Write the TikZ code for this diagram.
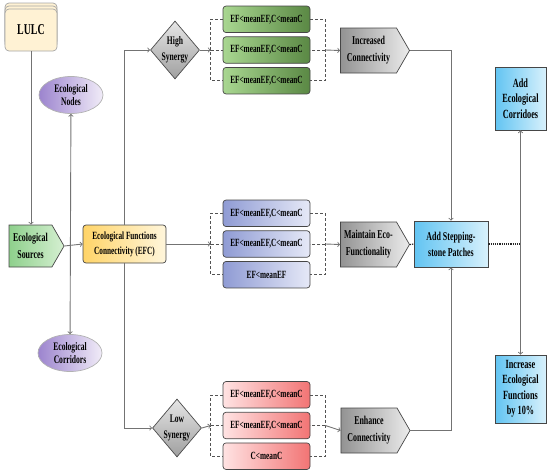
\documentclass[tikz,border=0pt]{standalone}
\usepackage{fontspec}
\setmainfont{Liberation Serif}[FakeStretch=0.66]
\usetikzlibrary{matrix,positioning,shapes.geometric,shapes.symbols}

\definecolor{lulcfill}{HTML}{FFF2D4}
\definecolor{purpleL}{HTML}{9C84CE}
\definecolor{purpleR}{HTML}{F1ECF8}
\definecolor{greenL}{HTML}{8ED08C}
\definecolor{greenR}{HTML}{D6F0D2}
\definecolor{yellowL}{HTML}{FFD468}
\definecolor{yellowR}{HTML}{FFF6DC}
\definecolor{hiL}{HTML}{A9D791}
\definecolor{hiR}{HTML}{5A8844}
\definecolor{midL}{HTML}{8F9BD4}
\definecolor{midR}{HTML}{E6E9F7}
\definecolor{loL}{HTML}{FFE3E3}
\definecolor{loR}{HTML}{F27474}
\definecolor{skyL}{HTML}{62C4F2}
\definecolor{skyR}{HTML}{D8F1FC}

\begin{document}
\begin{tikzpicture}[
		x=1pt,y=-1pt,
		font=\bfseries\fontsize{11}{14}\selectfont,
		>=to,
		edge/.style={
			draw=black!55,
			line width=0.9pt
		},
		bracket/.style={
			draw=gray!65!black,
			densely dashed,
			line width=0.6pt
		},
		dotline/.style={
			draw=gray!30!black,
			densely dotted,
			line width=1.2pt
		},
		box/.style={
			draw=gray!55!black,
			rounded corners=3pt,
			line width=0.7pt,
			minimum width=87pt,
			minimum height=26.5pt,
			inner sep=1pt
		},
		stack/.style={
			matrix of nodes,
			nodes={box},
			row sep=3.5pt
		},
		docbox/.style={
			draw=gray!70,
			fill=lulcfill,
			rounded corners=4pt,
			line width=0.7pt,
			minimum width=52pt,
			minimum height=42pt,
			font=\bfseries\fontsize{15}{17}\selectfont
		},
		blob/.style={
			ellipse,
			draw=gray!60,
			line width=0.7pt,
			left color=purpleL,
			right color=purpleR,
			inner sep=0pt,
			minimum width=64pt,
			minimum height=37pt,
			align=center,
			font=\bfseries\fontsize{11.5}{13.5}\selectfont
		},
		tag/.style={
			signal,
			signal to=east,
			signal pointer angle=120,
			draw=gray!55!black,
			line width=0.7pt,
			inner sep=0pt,
			minimum width=69pt,
			minimum height=45pt,
			align=center,
			left color=gray!85,
			right color=gray!15,
			font=\bfseries\fontsize{12}{17}\selectfont
		},
		choice/.style={
			diamond,
			aspect=0.85,
			draw=gray!60!black,
			line width=0.7pt,
			inner sep=0pt,
			minimum width=49pt,
			minimum height=58pt,
			align=center,
			top color=gray!20,
			bottom color=gray!75,
			font=\bfseries\fontsize{11.5}{16}\selectfont
		},
		action/.style={
			draw=gray!55!black,
			line width=0.7pt,
			left color=skyL,
			right color=skyR,
			align=center,
			inner sep=1pt,
			font=\bfseries\fontsize{12.5}{15.5}\selectfont
		}
		]
		\useasboundingbox (0,0) rectangle (550,474);
		% left column
		\foreach \i/\dy in {2/6,1/3}
			\node[docbox] (lulc\i) at (31,{30-\dy}) {};
		\node[docbox] (lulc) at (31,30) {LULC};
		\node[blob] (nodes) at (71,95) {Ecological\\Nodes};
		\node[blob] (corridors) at (70,353) {Ecological\\Corridors};
		\node[tag, left color=greenL, right color=greenR, minimum width=55pt, minimum height=42pt] (sources) at (30.5,246) {Ecological\\Sources};
		\node[box, left color=yellowL, right color=yellowR, minimum width=83pt, minimum height=38pt, align=center, font=\bfseries\fontsize{11}{15}\selectfont] (efc) at (124.5,244) {Ecological Functions\\Connectivity (EFC)};
		% synergy
		\node[choice] (high) at (175,50) {High\\Synergy};
		\node[choice] (low) at (177,428) {Low\\Synergy};
		% condition boxes
		\matrix[stack, nodes={left color=hiL, right color=hiR}] (hi) at (266.5,50)
		{
			EF<meanEF,C<meanC \\
			EF<meanEF,C<meanC \\
			EF<meanEF,C<meanC \\
		};
		\matrix[stack, nodes={left color=midL, right color=midR}] (mid) at (266.5,244)
		{
			EF<meanEF,C<meanC \\
			EF<meanEF,C<meanC \\
			EF<meanEF \\
		};
		\matrix[stack, nodes={left color=loL, right color=loR}] (lo) at (266.5,425.5)
		{
			EF<meanEF,C<meanC \\
			EF<meanEF,C<meanC \\
			C<meanC \\
		};
		% outcomes
		\node[tag] (incr) at (368.5,50.5) {Increased\\Connectivity};
		\node[tag] (maint) at (368.5,244.5) {Maintain Eco-\\Functionality};
		\node[tag] (enh) at (369,430.5) {Enhance\\Connectivity};
		\node[action, minimum width=74pt, minimum height=46pt, font=\bfseries\fontsize{12}{16}\selectfont] (patch) at (451,244) {Add Stepping-\\stone Patches};
		\node[action, minimum width=51pt, minimum height=63pt] (addcor) at (520.5,98.5) {Add\\Ecological\\Corridoes};
		\node[action, minimum width=51pt, minimum height=68pt] (addfun) at (520.5,389) {Increase\\Ecological\\Functions\\by 10\%};
		% connectors
		\draw[edge,->] (lulc.south) -- (lulc.south |- sources.north);
		\draw[edge,<->] (nodes) -- (corridors);
		\draw[edge,->] (sources.east) -- (efc.west);
		\draw[edge,->] (efc.north) |- (high.west);
		\draw[edge,->] (efc.south) |- (low.west);
		\foreach \grp/\src/\dst in {hi/high/incr, mid/efc/maint, lo/low/enh}
			{
			\coordinate (\grp-in) at ([xshift=-12pt]\grp-2-1.west);
			\coordinate (\grp-out) at ([xshift=15pt]\grp-2-1.east);
			\draw[bracket] (\grp-1-1.west) -| (\grp-in) |- (\grp-3-1.west);
			\draw[bracket] (\grp-in) -- (\grp-2-1.west);
			\draw[bracket] (\grp-1-1.east) -| (\grp-out) |- (\grp-3-1.east);
			\draw[bracket] (\grp-out) -- (\grp-2-1.east);
			\draw[edge,->] (\src.east) -- (\grp-in);
			\draw[edge,->] (\grp-out) -- (\dst.west);
			}
		\draw[edge,->] (incr.east) -| (patch.north);
		\draw[edge,->] (enh.east) -| (patch.south);
		\draw[dotline] (maint.east) -- (patch.west);
		\coordinate (spine) at (addcor.south |- patch.east);
		\draw[dotline] (patch.east) -- (spine);
		\draw[edge,<->] (addcor.south) -- (addfun.north);
\end{tikzpicture}
\end{document}
